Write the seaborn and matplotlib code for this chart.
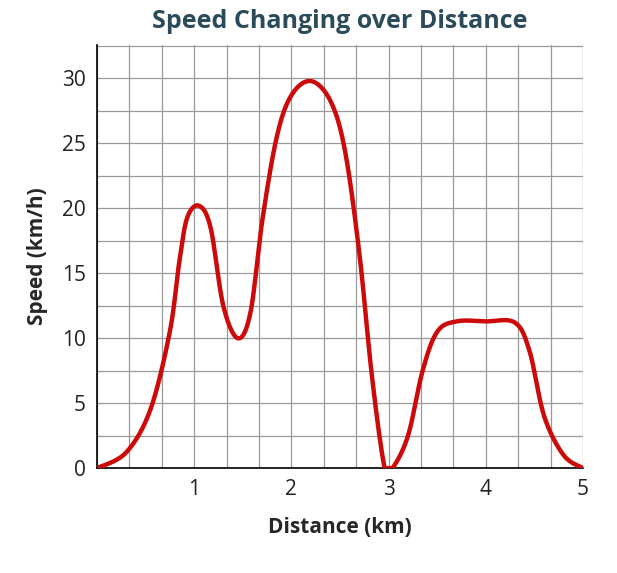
import numpy as np
import matplotlib
matplotlib.use("Agg")
import matplotlib.pyplot as plt
import seaborn as sns

# values
distance = [0, 0.3, 0.55, 0.75, 0.85, 0.93, 1.05, 1.17, 1.3, 1.45, 1.58, 1.7, 1.85, 2.0, 2.2,
            2.4, 2.55, 2.7, 2.83, 2.96, 3.04, 3.2, 3.35, 3.5, 3.7, 4.0, 4.3, 4.45,
            4.6, 4.8, 5.0]
speed = [0, 1.2, 4.5, 10.5, 16, 19.3, 20.2, 18.5, 12.5, 10, 12, 19, 25.5, 28.7, 29.8,
         28.3, 24.5, 16.5, 7, 0, 0, 2.5, 7.5, 10.5, 11.3, 11.3, 11.2, 9,
         4, 1, 0]
x_ticks = [1, 2, 3, 4, 5]
y_ticks = [0, 5, 10, 15, 20, 25, 30]


def catmull_rom(x, y, n=25):
    x = np.asarray(x, float); y = np.asarray(y, float)
    px = np.concatenate([[x[0]], x, [x[-1]]])
    py = np.concatenate([[y[0]], y, [y[-1]]])
    xs, ys = [], []
    t = np.linspace(0, 1, n, endpoint=False)
    for i in range(1, len(px) - 2):
        for p, out in ((px, xs), (py, ys)):
            p0, p1, p2, p3 = p[i - 1], p[i], p[i + 1], p[i + 2]
            out.extend(0.5 * (2 * p1 + (-p0 + p2) * t + (2 * p0 - 5 * p1 + 4 * p2 - p3) * t**2
                              + (-p0 + 3 * p1 - 3 * p2 + p3) * t**3))
    xs.append(x[-1]); ys.append(y[-1])
    return np.array(xs), np.clip(np.array(ys), 0, None)


sns.set_style("white")
plt.rcParams['font.family'] = ['Open Sans', 'DejaVu Sans']
fig, ax = plt.subplots(figsize=(6.17, 5.73), dpi=100)
fig.subplots_adjust(left=0.157, right=0.945, top=0.922, bottom=0.183)

sx, sy = catmull_rom(distance, speed)
sns.lineplot(x=sx, y=sy, ax=ax, color="#cc0a0a", linewidth=3.2, sort=False, zorder=3)

ax.set_xlim(0, 5)
ax.set_ylim(0, 32.6)
ax.set_xticks(x_ticks)
ax.set_yticks(y_ticks)
ax.set_xticks(np.arange(0, 5.01, 1 / 3), minor=True)
ax.set_yticks(np.arange(0, 32.6, 2.5), minor=True)
ax.grid(which="both", color="#999999", linewidth=0.9)
ax.set_axisbelow(True)
ax.tick_params(which="both", labelsize=15, length=0, pad=8, colors="#222222")
for s in ["top", "right"]:
    ax.spines[s].set_visible(False)
for s in ["left", "bottom"]:
    ax.spines[s].set_color("black")
    ax.spines[s].set_linewidth(1.2)

ax.set_xlabel("Distance (km)", fontsize=15, fontweight="bold", labelpad=12)
ax.set_ylabel("Speed (km/h)", fontsize=15, fontweight="bold", labelpad=10)
ax.set_title("Speed Changing over Distance", fontsize=18, fontweight="bold",
             color="#2b4b5b", pad=12)

fig.savefig("out.png", dpi=100)
